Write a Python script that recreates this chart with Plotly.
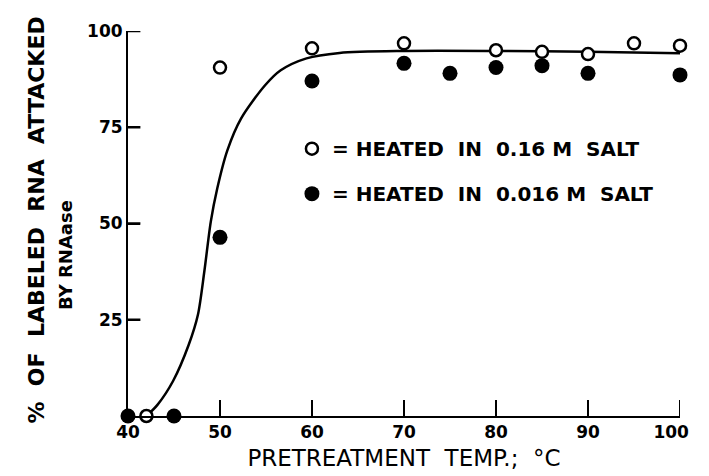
import plotly.graph_objects as go

# Data
temp_016 = [42, 50, 60, 70, 80, 85, 90, 95, 100]          # heated in 0.16 M salt (open)
pct_016 = [0, 90.5, 95.5, 96.8, 95.0, 94.6, 94.0, 96.8, 96.2]

temp_0016 = [40, 45, 50, 60, 70, 75, 80, 85, 90, 100]      # heated in 0.016 M salt (filled)
pct_0016 = [0, 0, 46.4, 87.0, 91.6, 89.0, 90.5, 91.0, 89.0, 88.6]

curve_x = [42, 43.2, 44.9, 46.6, 47.6, 48.3, 49.0, 49.7, 50.8, 52.3, 54.9, 56.6, 59.4, 63, 70, 80, 90, 100]
curve_y = [0, 2.9, 9.1, 18.5, 26.3, 37.6, 50.5, 59.1, 69.0, 77.3, 85.9, 89.8, 92.9, 94.3, 94.8, 94.8, 94.6, 94.2]

x_ticks = [40, 50, 60, 70, 80, 90, 100]
x_ticklabels = ["40", "50", "60", "70", "80", "90", "100\u00a0\u00a0\u00a0"]
y_ticks = [25, 50, 75, 100]
y_ticklabels = ["25", "50", "75", "100"]

FONT = "DejaVu Sans"
X_MIN, X_MAX = 40, 100
Y_MIN, Y_MAX = 0, 100
PLOT_W, PLOT_H = 579, 385

fig = go.Figure()
fig.add_trace(go.Scatter(x=curve_x, y=curve_y, mode="lines",
                         line=dict(color="black", width=2.5, shape="spline", smoothing=0.8),
                         showlegend=False, hoverinfo="skip"))
fig.add_trace(go.Scatter(x=temp_016, y=pct_016, mode="markers",
                         name="= HEATED  IN  0.16 M  SALT", legendgroup="a",
                         marker=dict(symbol="circle", size=12, color="white",
                                     line=dict(color="black", width=2.5)),
                         cliponaxis=False))
fig.add_trace(go.Scatter(x=temp_0016, y=pct_0016, mode="markers",
                         name="= HEATED  IN  0.016 M  SALT", legendgroup="b",
                         marker=dict(symbol="circle", size=15, color="black",
                                     line=dict(color="black", width=0)),
                         cliponaxis=False))

fig.update_layout(
    width=709, height=476,
    margin=dict(l=120, r=10, t=23, b=68),
    paper_bgcolor="white", plot_bgcolor="rgba(0,0,0,0)",
    font=dict(family=FONT, color="black", size=18),
    showlegend=True,
    legend=dict(x=0.297, y=0.745, xanchor="left", yanchor="top",
                font=dict(family=FONT, size=20, color="black", weight="bold"),
                bgcolor="rgba(0,0,0,0)", tracegroupgap=16, itemwidth=30),
    xaxis=dict(range=[X_MIN, X_MAX], tickvals=x_ticks, ticktext=x_ticklabels,
               showline=True, linecolor="black", linewidth=2,
               ticks="inside", ticklen=16, tickwidth=2, tickcolor="black",
               showgrid=False, zeroline=False, ticklabeloverflow="allow",
               tickfont=dict(family=FONT, size=17, color="black", weight="bold"),
               title=dict(text="PRETREATMENT\u00a0\u00a0TEMP.;\u00a0\u00a0°C", standoff=8,
                          font=dict(family=FONT, size=23, color="black"))),
    yaxis=dict(range=[Y_MIN, Y_MAX], tickvals=y_ticks, ticktext=y_ticklabels,
               showline=True, linecolor="black", linewidth=2,
               ticks="inside", ticklen=12, tickwidth=2, tickcolor="black",
               showgrid=False, zeroline=False, ticksuffix="\u00a0\u00a0\u00a0",
               tickfont=dict(family=FONT, size=17, color="black", weight="bold")),
)

# inward tick marks at the tick values
for v in x_ticks[1:]:
    fig.add_shape(type="line", xref="x", yref="paper", x0=v, x1=v,
                  y0=0, y1=16 / PLOT_H, line=dict(color="black", width=2))
for v in y_ticks:
    fig.add_shape(type="line", xref="paper", yref="y", y0=v, y1=v,
                  x0=0, x1=13 / PLOT_W, line=dict(color="black", width=2.5))

fig.add_annotation(text="%  OF  LABELED  RNA  ATTACKED", textangle=-90,
                   xref="paper", yref="paper", x=(23 - 120) / PLOT_W, y=(408 - 212) / PLOT_H,
                   xanchor="center", yanchor="middle", showarrow=False,
                   font=dict(family=FONT, size=22, color="black", weight="bold"))
fig.add_annotation(text="BY RNAase", textangle=-90,
                   xref="paper", yref="paper", x=(54 - 120) / PLOT_W, y=(408 - 247) / PLOT_H,
                   xanchor="center", yanchor="middle", showarrow=False,
                   font=dict(family=FONT, size=18, color="black", weight="bold"))

fig.write_html("out.html")
